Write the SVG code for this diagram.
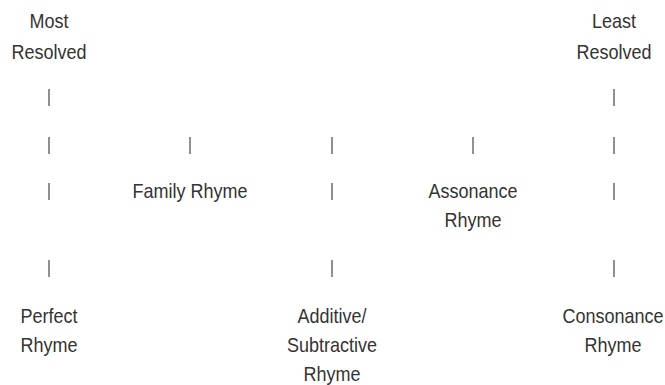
<svg xmlns="http://www.w3.org/2000/svg" width="665" height="385" viewBox="0 0 665 385">
<style>
.t{font-family:"Liberation Sans",Arial,sans-serif;font-size:20px;fill:#333333;text-anchor:middle}
.b{stroke:#555555;stroke-width:1.3;fill:none}
</style>
<rect width="665" height="385" fill="#ffffff"/>
<g id="connectors">
<path class="b" d="M49 89V106M49 137V154M49 183V200M49 260V277"/>
<path class="b" d="M190 137V154"/>
<path class="b" d="M332 137V154M332 183V200M332 260V277"/>
<path class="b" d="M473 137V154"/>
<path class="b" d="M614 89V106M614 137V154M614 183V200M614 260V277"/>
</g>
<g id="most-resolved"><text class="t" transform="translate(49 28) scale(.9 1)">Most</text><text class="t" transform="translate(49 59) scale(.9 1)">Resolved</text></g>
<g id="least-resolved"><text class="t" transform="translate(614 28) scale(.9 1)">Least</text><text class="t" transform="translate(614 59) scale(.9 1)">Resolved</text></g>
<g id="family-rhyme"><text class="t" transform="translate(190 198) scale(.9 1)">Family Rhyme</text></g>
<g id="assonance-rhyme"><text class="t" transform="translate(473 198) scale(.9 1)">Assonance</text><text class="t" transform="translate(473 227) scale(.9 1)">Rhyme</text></g>
<g id="perfect-rhyme"><text class="t" transform="translate(49 323) scale(.9 1)">Perfect</text><text class="t" transform="translate(49 352) scale(.9 1)">Rhyme</text></g>
<g id="additive-subtractive-rhyme"><text class="t" transform="translate(332 323) scale(.9 1)">Additive/</text><text class="t" transform="translate(332 352) scale(.9 1)">Subtractive</text><text class="t" transform="translate(332 381) scale(.9 1)">Rhyme</text></g>
<g id="consonance-rhyme"><text class="t" transform="translate(613 323) scale(.9 1)">Consonance</text><text class="t" transform="translate(613 352) scale(.9 1)">Rhyme</text></g>
</svg>
